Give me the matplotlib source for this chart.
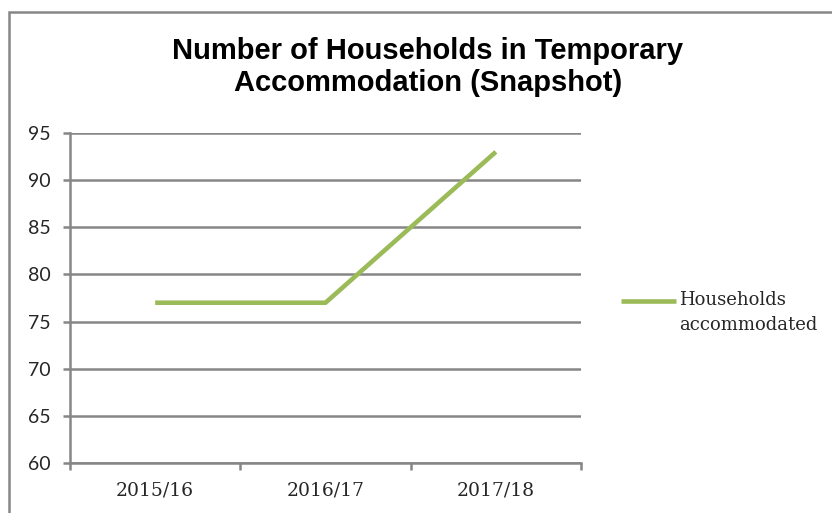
# Number of households in temporary accommodation - Excel-style line chart

import matplotlib.pyplot as plt
from matplotlib.patches import Rectangle
from matplotlib.legend_handler import HandlerLine2D

# data
years = ['2015/16', '2016/17', '2017/18']
households = [77, 77, 93]
series_name = 'Households\naccommodated'
y_ticks = [60, 65, 70, 75, 80, 85, 90, 95]

grey = '#868686'
green = '#9BBB59'
text_col = '#262626'


class FirstLineHandler(HandlerLine2D):
    # Excel puts the legend key next to the first line of a wrapped label
    def create_artists(self, legend, orig_handle, xdescent, ydescent,
                       width, height, fontsize, trans):
        arts = super().create_artists(legend, orig_handle, xdescent, ydescent,
                                      width, height, fontsize, trans)
        for a in arts:
            a.set_ydata([y + fontsize * 0.72 for y in a.get_ydata()])
        return arts


fig = plt.figure(figsize=(8.32, 5.13), dpi=100)
ax = fig.add_axes([70 / 832, 1 - 463 / 513, 511 / 832, 330 / 513])

# outer chart frame (cut off at right and bottom like the screenshot)
fig.patches.append(Rectangle((9 / 832, -0.2), 1.2, 1.2 - 12 / 513,
                             transform=fig.transFigure, fill=False,
                             edgecolor=grey, linewidth=1.8, zorder=0))

x = range(len(years))
line, = ax.plot(x, households, color=green, linewidth=3.3,
                solid_capstyle='butt', label=series_name, zorder=3)

ax.set_xlim(-0.5, len(years) - 0.5)
ax.set_ylim(60, 95)
ax.set_yticks(y_ticks)
ax.set_yticklabels([str(v) for v in y_ticks], fontfamily='Lato',
                   fontsize=14, color=text_col)
ax.set_xticks(list(x))
ax.set_xticklabels(years, fontfamily='DejaVu Serif', fontsize=13.5,
                   color=text_col)
ax.set_xticks([i - 0.5 for i in range(len(years) + 1)], minor=True)
ax.tick_params(axis='x', which='major', length=0, pad=13)
ax.tick_params(axis='x', which='minor', length=5, width=1.8, color=grey)
ax.tick_params(axis='y', length=5, width=1.8, color=grey, pad=9)

ax.grid(axis='y', color=grey, linewidth=1.8)
ax.set_axisbelow(True)
for side in ['top', 'right']:
    ax.spines[side].set_visible(False)
for side in ['left', 'bottom']:
    ax.spines[side].set_color(grey)
    ax.spines[side].set_linewidth(1.8)

fig.text(428 / 832, 1 - 67 / 513,
         'Number of Households in Temporary\nAccommodation (Snapshot)',
         ha='center', va='center', fontfamily='Liberation Sans',
         fontweight='bold', fontsize=21, linespacing=1.15, color='black')

leg = ax.legend(loc='center left', bbox_to_anchor=(1.046, 0.455),
                frameon=False, prop={'family': 'DejaVu Serif', 'size': 13},
                handlelength=3.05, handletextpad=0.2,
                handler_map={line: FirstLineHandler()})
for t in leg.get_texts():
    t.set_color(text_col)
    t.set_linespacing(1.5)

fig.savefig('out.png', dpi=100)
